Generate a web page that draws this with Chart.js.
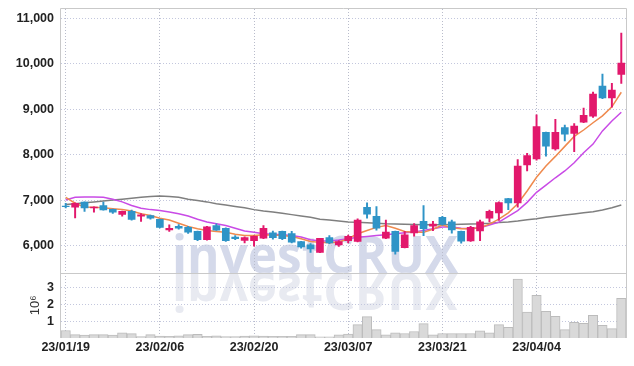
<!DOCTYPE html>
<html><head><meta charset="utf-8">
<script src="https://cdn.jsdelivr.net/npm/chart.js@4"></script>
<style>html,body{margin:0;padding:0;background:#fff;}</style>
</head><body>
<canvas id="c" width="634" height="366"></canvas>
<script>
const dates = ['23/01/19','23/01/20','23/01/25','23/01/26','23/01/27','23/01/30','23/01/31','23/02/01','23/02/02','23/02/03',
'23/02/06','23/02/07','23/02/08','23/02/09','23/02/10','23/02/13','23/02/14','23/02/15','23/02/16','23/02/17',
'23/02/20','23/02/21','23/02/22','23/02/23','23/02/24','23/02/27','23/02/28','23/03/02','23/03/03','23/03/06',
'23/03/07','23/03/08','23/03/09','23/03/10','23/03/13','23/03/14','23/03/15','23/03/16','23/03/17','23/03/20',
'23/03/21','23/03/22','23/03/23','23/03/24','23/03/27','23/03/28','23/03/29','23/03/30','23/03/31','23/04/03',
'23/04/04','23/04/05','23/04/06','23/04/07','23/04/10','23/04/11','23/04/12','23/04/13','23/04/14','23/04/17'];

const openP  = [6870,6845,6955,6825,6880,6795,6685,6750,6645,6660,6575,6345,6425,6400,6310,6130,6440,6380,6185,6115,
6110,6160,6280,6310,6265,6090,6015,5850,6175,6015,6105,6090,6840,6645,6160,6310,5955,6280,6530,6425,
6620,6520,6310,6100,6320,6600,6715,7035,6935,7770,7905,8490,8125,8595,8465,8715,8845,9505,9245,9760];
const highP  = [6930,6940,6960,6850,6955,6800,6760,6780,6705,6670,6580,6455,6460,6420,6320,6420,6480,6390,6220,6190,
6215,6440,6320,6320,6310,6095,6045,6160,6220,6110,6230,6590,6940,6855,6560,6320,6310,6485,6880,6530,
6640,6560,6320,6420,6560,6780,6960,7040,7890,8025,8875,8495,8775,8650,8680,9020,9375,9770,9565,10670];
const lowP   = [6830,6610,6750,6735,6780,6705,6645,6560,6530,6580,6390,6310,6360,6265,6110,6120,6330,6090,6130,6060,
5985,6150,6140,6130,6060,5940,5850,5845,6040,5980,6060,6080,6600,6340,6150,5810,5950,6205,6220,6325,
6450,6270,6050,6090,6110,6520,6550,6790,6845,7640,7875,7965,8095,8300,8065,8700,8815,9230,9040,9565];
const closeP = [6855,6930,6830,6845,6785,6735,6750,6575,6675,6600,6400,6380,6380,6295,6130,6410,6340,6105,6150,6175,
6205,6380,6175,6150,6075,5970,5925,6160,6060,6090,6205,6560,6690,6380,6295,5870,6235,6440,6370,6470,
6465,6345,6095,6400,6520,6750,6945,6935,7745,7980,8615,8185,8490,8450,8625,8860,9330,9245,9420,10010];

const maShort = [7060,6930,6850,6840,6830,6810,6790,6760,6700,6660,6600,6560,6490,6420,6370,6330,6310,6290,6250,6220,
6220,6235,6230,6220,6200,6150,6090,6070,6060,6080,6150,6260,6330,6400,6440,6380,6310,6290,6290,6360,
6450,6390,6370,6370,6390,6470,6580,6720,6920,7200,7500,7750,7960,8180,8400,8540,8700,8850,9050,9370];
const maMid = [7000,7060,7065,7065,7060,7020,6960,6880,6820,6790,6770,6740,6700,6650,6580,6520,6480,6440,6380,6320,
6290,6260,6250,6240,6220,6190,6130,6100,6100,6120,6150,6180,6200,6220,6240,6260,6280,6300,6330,6370,
6410,6410,6380,6370,6390,6450,6515,6640,6770,6950,7170,7330,7490,7640,7820,8040,8230,8520,8740,8930];
const maLong = [6900,6920,6940,6960,6980,7000,7020,7040,7060,7080,7090,7080,7060,7020,6990,6960,6920,6890,6860,6830,
6790,6760,6740,6710,6680,6650,6620,6580,6560,6540,6520,6510,6500,6490,6480,6475,6470,6465,6460,6460,
6460,6465,6470,6475,6480,6490,6505,6520,6540,6565,6590,6620,6645,6670,6695,6720,6745,6780,6830,6890];

const volumeM = [0.45,0.2,0.18,0.2,0.2,0.18,0.31,0.26,0.08,0.2,0.12,0.1,0.13,0.2,0.22,0.1,0.13,0.08,0.08,0.12,
0.13,0.11,0.1,0.1,0.1,0.2,0.2,0.07,0.07,0.19,0.23,0.8,1.28,0.5,0.19,0.31,0.27,0.39,0.86,0.19,
0.27,0.27,0.27,0.27,0.43,0.31,0.8,0.64,3.53,1.55,2.56,1.6,1.3,0.5,0.94,0.88,1.36,0.76,0.56,2.38];

const priceTicks = [6000,7000,8000,9000,10000,11000];
const volumeTicks = [1,2,3];

const UP = '#e2186c', DOWN = '#2f94c7';
const FONT = "'Liberation Sans', Arial, sans-serif";
Chart.defaults.font.family = FONT;
const tickFont = {size:12.5, weight:'bold'};

const wick = dates.map((d,i)=>[lowP[i], highP[i]]);
const body = dates.map((d,i)=>{
  let a = openP[i], b = closeP[i];
  if (Math.abs(a-b) < 15) { const m=(a+b)/2; a=m-8; b=m+8; }
  return [a,b];
});
const candleColor = ctx => (closeP[ctx.dataIndex] >= openP[ctx.dataIndex] ? UP : DOWN);
const fixSide = s => { s.width = 61; s.paddingTop = 0; s.paddingBottom = 0; };

const watermark = {
  id:'wm',
  beforeDraw(chart){
    const ctx = chart.ctx;
    const y = chart.scales.y.bottom;
    ctx.save();
    ctx.font = "bold 52px 'Open Sans', sans-serif";
    const w = ctx.measureText('investCRUX').width;
    const sx = 286 / w;
    ctx.textBaseline = 'alphabetic';
    ctx.translate(172, y);
    ctx.scale(sx, 1);
    ctx.fillStyle = '#d4d9ea';
    ctx.fillText('investCRUX', 0, 0);
    ctx.scale(1, -1);
    ctx.fillStyle = '#e8eaf1';
    ctx.fillText('investCRUX', 0, 0);
    ctx.restore();
  },
  afterDraw(chart){
    const ctx = chart.ctx, a = chart.chartArea;
    const mid = chart.scales.y.bottom;
    ctx.save();
    ctx.strokeStyle = '#c9c9c9';
    ctx.lineWidth = 1;
    ctx.beginPath();
    ctx.moveTo(Math.round(a.left)-0.5, a.bottom);
    ctx.lineTo(Math.round(a.left)-0.5, Math.round(a.top)-0.5);
    ctx.lineTo(Math.round(a.right)+0.5, Math.round(a.top)-0.5);
    ctx.lineTo(Math.round(a.right)+0.5, a.bottom);
    ctx.moveTo(a.left, Math.round(mid)+0.5);
    ctx.lineTo(a.right, Math.round(mid)+0.5);
    ctx.stroke();
    ctx.restore();
  }
};

new Chart(document.getElementById('c'), {
  data: {
    labels: dates,
    datasets: [
      {type:'line', label:'MA long', data: maLong, yAxisID:'y', borderColor:'#7f7f7f', borderWidth:1.5, pointRadius:0, order:5},
      {type:'line', label:'MA mid', data: maMid, yAxisID:'y', borderColor:'#c94be6', borderWidth:1.5, pointRadius:0, order:4},
      {type:'line', label:'MA short', data: maShort, yAxisID:'y', borderColor:'#ef8a4e', borderWidth:1.5, pointRadius:0, order:3},
      {type:'bar', label:'wick', data: wick, yAxisID:'y', backgroundColor: candleColor, barThickness:1.3, grouped:false, order:2},
      {type:'bar', label:'body', data: body, yAxisID:'y', backgroundColor: candleColor, barThickness:7, grouped:false, order:1},
      {type:'bar', label:'volume', data: volumeM, yAxisID:'yv', backgroundColor:'#d9d9d9', borderColor:'#bcbcbc', borderWidth:1,
        barPercentage:1, categoryPercentage:1, grouped:false, order:6}
    ]
  },
  options: {
    responsive:false,
    animation:false,
    devicePixelRatio:1,
    layout:{padding:{top:9, right:8, bottom:9, left:0}},
    plugins:{legend:{display:false}, tooltip:{enabled:false}},
    scales:{
      x:{
        type:'category', offset:true,
        grid:{offset:false, drawTicks:false, color: c => (c.index % 10 === 0 ? '#b9bccb' : 'rgba(0,0,0,0)'), lineWidth:1},
        border:{display:false, dash:[1,2]},
        ticks:{autoSkip:false, maxRotation:0, minRotation:0, padding:2, color:'#222',
          font:tickFont, callback:(v,i)=> (i % 10 === 0 ? dates[i] : '')}
      },
      yv:{
        type:'linear', position:'left', stack:'s', stackWeight:1, min:0, max:3.9,
        afterBuildTicks: s => { s.ticks = volumeTicks.map(v=>({value:v})); },
        afterFit: fixSide,
        grid:{color:'#c3c7dd', drawTicks:false},
        border:{display:false, dash:[1,2]},
        ticks:{autoSkip:false, padding:7, color:'#222', font:tickFont},
        title:{display:true, text:'10⁶', color:'#333', font:{size:13}, padding:{top:28, bottom:0}}
      },
      y:{
        type:'linear', position:'left', stack:'s', stackWeight:4.05, min:5400, max:11200,
        afterBuildTicks: s => { s.ticks = priceTicks.map(v=>({value:v})); },
        afterFit: fixSide,
        grid:{color:'#c3c7dd', drawTicks:false},
        border:{display:false, dash:[1,2]},
        ticks:{autoSkip:false, padding:7, color:'#222', font:tickFont, callback: v => v.toLocaleString('en-US')}
      }
    }
  },
  plugins:[watermark]
});
</script>
</body></html>
